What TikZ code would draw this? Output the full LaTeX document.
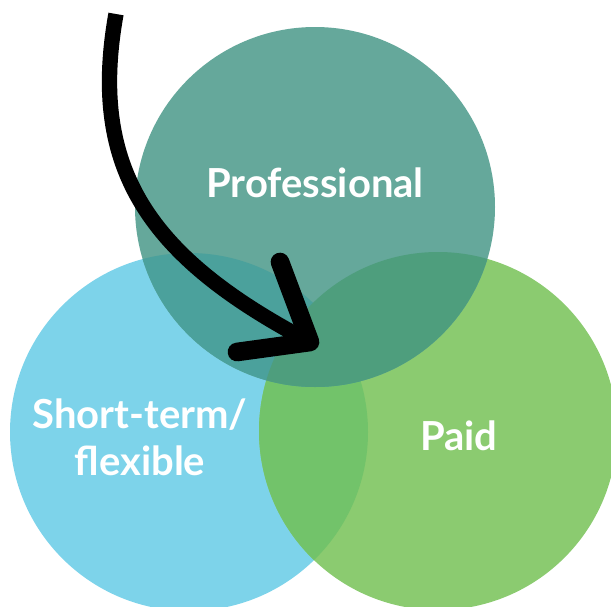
\documentclass[tikz,border=0pt]{standalone}
\usepackage{fontspec}
\setmainfont{Lato}
\usetikzlibrary{calc}
\usetikzlibrary{positioning}

\definecolor{shortblue}{HTML}{7DD3EA}
\definecolor{paidgreen}{HTML}{8BCB70}
\definecolor{profteal}{HTML}{65A89B}
\definecolor{bluegreen}{HTML}{72C36A}
\definecolor{tealblue}{HTML}{4BA19C}
\definecolor{tealgreen}{HTML}{4E9E7D}

\tikzset{
	label/.style={text=white, font=\fontsize{30}{35}\selectfont\bfseries, align=center, inner sep=0pt},
	shaft/.style={line width=11.5pt, black, line cap=butt},
	barb/.style={line width=14pt, black, line cap=round, line join=round}
}

\begin{document}
\begin{tikzpicture}[x=0.75pt, y=-0.75pt]
		% picture is 611 x 607 px, y downwards
		\useasboundingbox (0,0) rectangle (611,607);
		\clip (0,0) rectangle (611,607);
		
		%%%%%%%%%%%%%%%
		%   CIRCLES   %
		%%%%%%%%%%%%%%%
		\fill[shortblue] (189,432) circle (179);
		\fill[paidgreen] (438,431) circle (179);
		\fill[profteal] (315,207) circle (180);
		
		% overlaps
		\begin{scope}
			\clip (189,432) circle (179);
			\fill[bluegreen] (438,431) circle (179);
			\fill[tealblue] (315,207) circle (180);
		\end{scope}
		\begin{scope}
			\clip (438,431) circle (179);
			\fill[tealgreen] (315,207) circle (180);
		\end{scope}
		
		%%%%%%%%%%%%%%%
		%    NODES    %
		%%%%%%%%%%%%%%%
		\node[label] (prof) at (315,183) {Professional};
		\node[label] (short) at (140,437) {Short-term/\\flexible};
		\node[label] (paid) at (459,436) {Paid};
		
		%%%%%%%%%%%%%%%
		%    ARROW    %
		%%%%%%%%%%%%%%%
		\coordinate (start) at (116,14);
		\coordinate (tip) at (310,342);
		\coordinate (upbarb) at (280,262);
		\coordinate (lowbarb) at (237,352);
		
		\draw[shaft] (start) .. controls (88,170) and (150,258) .. (tip);
		\draw[barb] (upbarb) -- (tip) -- (lowbarb);
		
	\end{tikzpicture}
\end{document}
